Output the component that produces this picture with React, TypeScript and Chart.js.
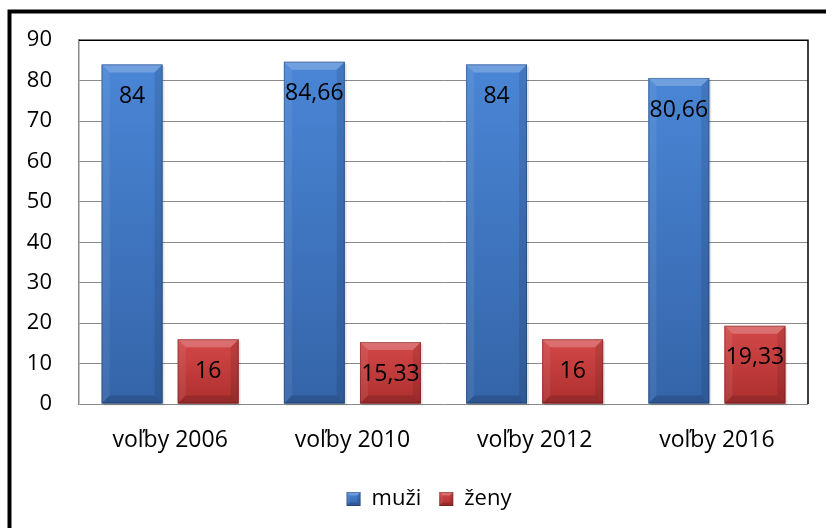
import React, { useEffect, useRef } from "react";
import { Chart, registerables } from "chart.js";

Chart.register(...registerables);

const categories = ["voľby 2006", "voľby 2010", "voľby 2012", "voľby 2016"];
const muzi = [84, 84.66, 84, 80.66];
const zeny = [16, 15.33, 16, 19.33];
const seriesNames = ["muži", "ženy"];
const yTicks = [0, 10, 20, 30, 40, 50, 60, 70, 80, 90];

const FONT = "'Open Sans', 'Noto Sans', sans-serif";
const baseColors = ["#3f76c2", "#c53a3a"];
const lightColors = ["#4a86d6", "#d44848"];
const darkColors = ["#3464a8", "#ad2f2f"];
const LEGEND_SHIFT = 25;

function bevelBar(ctx: CanvasRenderingContext2D, l: number, t: number, r: number, b: number, i: number) {
  const w = r - l;
  const h = b - t;
  const bv = Math.min(8, w / 4, h / 4);
  const g = ctx.createLinearGradient(0, t, 0, b);
  g.addColorStop(0, lightColors[i]);
  g.addColorStop(1, darkColors[i]);
  ctx.fillStyle = g;
  ctx.fillRect(l, t, w, h);
  ctx.beginPath();
  ctx.moveTo(l, t); ctx.lineTo(r, t); ctx.lineTo(r - bv, t + bv); ctx.lineTo(l + bv, t + bv); ctx.closePath();
  ctx.fillStyle = "rgba(255,255,255,0.22)";
  ctx.fill();
  ctx.beginPath();
  ctx.moveTo(l, t); ctx.lineTo(l + bv, t + bv); ctx.lineTo(l + bv, b - bv); ctx.lineTo(l, b); ctx.closePath();
  ctx.fillStyle = "rgba(255,255,255,0.07)";
  ctx.fill();
  ctx.beginPath();
  ctx.moveTo(r, t); ctx.lineTo(r - bv, t + bv); ctx.lineTo(r - bv, b - bv); ctx.lineTo(r, b); ctx.closePath();
  ctx.fillStyle = "rgba(0,0,0,0.10)";
  ctx.fill();
  ctx.beginPath();
  ctx.moveTo(l, b); ctx.lineTo(r, b); ctx.lineTo(r - bv, b - bv); ctx.lineTo(l + bv, b - bv); ctx.closePath();
  ctx.fillStyle = "rgba(0,0,0,0.14)";
  ctx.fill();
  ctx.strokeStyle = "rgba(0,0,0,0.22)";
  ctx.lineWidth = 1;
  ctx.strokeRect(l + 0.5, t + 0.5, w - 1, h - 1);
}

const decorPlugin = {
  id: "decor",
  afterDatasetsDraw(chart: any) {
    const ctx = chart.ctx as CanvasRenderingContext2D;
    const area = chart.chartArea;
    ctx.save();
    chart.data.datasets.forEach((ds: any, i: number) => {
      const meta = chart.getDatasetMeta(i);
      meta.data.forEach((bar: any, j: number) => {
        const l = bar.x - bar.width / 2;
        const r = bar.x + bar.width / 2;
        const t = bar.y;
        const b = bar.base;
        ctx.fillStyle = "rgba(0,0,0,0.10)";
        ctx.fillRect(l + 2, t + 2, r - l, b - t);
        bevelBar(ctx, l, t, r, b, i);
        const v = ds.data[j];
        ctx.fillStyle = "#000";
        ctx.font = `23px ${FONT}`;
        ctx.textAlign = "center";
        ctx.textBaseline = "middle";
        ctx.fillText(String(v).replace(".", ","), bar.x, t + 32);
      });
    });
    ctx.strokeStyle = "#000";
    ctx.lineWidth = 1.5;
    ctx.beginPath();
    ctx.moveTo(area.left, area.top);
    ctx.lineTo(area.right, area.top);
    ctx.lineTo(area.right, area.bottom);
    ctx.stroke();
    ctx.lineWidth = 4;
    ctx.beginPath();
    ctx.moveTo(9.5, 540);
    ctx.lineTo(9.5, 11.5);
    ctx.lineTo(830, 11.5);
    ctx.stroke();
    ctx.restore();
  },
};

const legendBoxPlugin = {
  id: "legendBoxes",
  afterUpdate(chart: any) {
    const legend = chart.legend;
    if (!legend) return;
    legend.left += LEGEND_SHIFT;
    legend.right += LEGEND_SHIFT;
    (legend.legendHitBoxes || []).forEach((hb: any) => { hb.left += LEGEND_SHIFT; });
  },
  afterDraw(chart: any) {
    const legend = chart.legend;
    if (!legend || !legend.legendHitBoxes) return;
    const ctx = chart.ctx as CanvasRenderingContext2D;
    ctx.save();
    legend.legendHitBoxes.forEach((hb: any, i: number) => {
      const s = 14;
      const l = hb.left;
      const t = hb.top + (hb.height - s) / 2;
      ctx.fillStyle = "#fff";
      ctx.fillRect(l - 1, t - 1, s + 2, s + 2);
      bevelBar(ctx, l, t, l + s, t + s, i);
    });
    ctx.restore();
  },
};

export default function App() {
  const ref = useRef<HTMLCanvasElement | null>(null);
  useEffect(() => {
    if (!ref.current) return;
    const chart = new Chart(ref.current, {
      type: "bar",
      data: {
        labels: categories,
        datasets: [
          { label: seriesNames[0], data: muzi, backgroundColor: baseColors[0], borderWidth: 0 },
          { label: seriesNames[1], data: zeny, backgroundColor: baseColors[1], borderWidth: 0 },
        ],
      },
      options: {
        animation: false,
        responsive: false,
        maintainAspectRatio: false,
        layout: { padding: { left: 0, right: 18, top: 40, bottom: 8 } },
        datasets: { bar: { categoryPercentage: 0.835, barPercentage: 0.8 } },
        plugins: {
          tooltip: { enabled: false },
          legend: {
            position: "bottom",
            labels: {
              font: { family: FONT, size: 22 },
              color: "#000",
              boxWidth: 14,
              boxHeight: 14,
              padding: 18,
            },
          },
        },
        scales: {
          x: {
            grid: { display: false, drawTicks: false },
            border: { display: false },
            ticks: { font: { family: FONT, size: 23 }, color: "#000", padding: 23 },
            afterFit: (s: any) => { s.height = 66; },
          },
          y: {
            min: 0,
            max: 90,
            afterBuildTicks: (s: any) => { s.ticks = yTicks.map((v) => ({ value: v })); },
            grid: { color: "#8a8a8a", lineWidth: 1, drawTicks: false },
            border: { display: true, color: "#8a8a8a", width: 1.5 },
            ticks: { font: { family: FONT, size: 22 }, color: "#000", padding: 27 },
            afterFit: (s: any) => { s.width = 79; },
          },
        },
      },
      plugins: [decorPlugin, legendBoxPlugin],
    });
    return () => chart.destroy();
  }, []);
  return (
    <div style={{ position: "absolute", left: 0, top: 0, width: 826, height: 528, background: "#fff", overflow: "hidden" }}>
      <canvas ref={ref} width={826} height={528} style={{ display: "block", width: 826, height: 528 }} />
    </div>
  );
}
